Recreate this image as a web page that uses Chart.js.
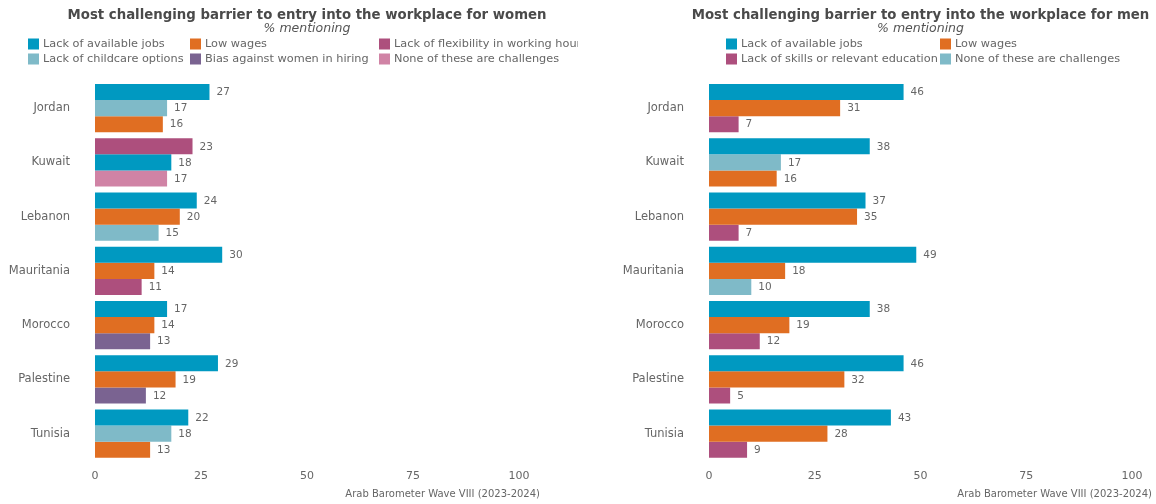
<!DOCTYPE html>
<html>
<head>
<meta charset="utf-8">
<script src="https://cdn.jsdelivr.net/npm/chart.js@4"></script>
<style>
  html, body { margin: 0; padding: 0; background: #fff; }
  .wrap { display: flex; width: 1156px; height: 504px; }
  .panel { position: relative; width: 578px; height: 504px; }
</style>
</head>
<body>
<div class="wrap">
  <div class="panel"><canvas id="womenChart"></canvas></div>
  <div class="panel"><canvas id="menChart"></canvas></div>
</div>
<script>
const countries = ["Jordan", "Kuwait", "Lebanon", "Mauritania", "Morocco", "Palestine", "Tunisia"];
const xTicks = [0, 25, 50, 75, 100];
const subtitle = "% mentioning";
const source = "Arab Barometer Wave VIII (2023-2024)";

// barrier names and colours
const barrierNames = {
  jobs: "Lack of available jobs",
  wages: "Low wages",
  flex: "Lack of flexibility in working hours",
  childcare: "Lack of childcare options",
  bias: "Bias against women in hiring",
  noneW: "None of these are challenges",
  skills: "Lack of skills or relevant education",
  noneM: "None of these are challenges"
};
const barrierColors = {
  jobs: "#0099c1",
  wages: "#e06e22",
  flex: "#ad4f7d",
  childcare: "#7fbac8",
  bias: "#7a6391",
  noneW: "#d083a5",
  skills: "#ad4f7d",
  noneM: "#7fbac8"
};

// women: three most mentioned barriers per country, largest first
const womenFirst = [27, 23, 24, 30, 17, 29, 22];
const womenFirstKey = ["jobs", "flex", "jobs", "jobs", "jobs", "jobs", "jobs"];
const womenSecond = [17, 18, 20, 14, 14, 19, 18];
const womenSecondKey = ["childcare", "jobs", "wages", "wages", "wages", "wages", "childcare"];
const womenThird = [16, 17, 15, 11, 13, 12, 13];
const womenThirdKey = ["wages", "noneW", "childcare", "flex", "bias", "bias", "wages"];
const womenLegend = ["jobs", "wages", "flex", "childcare", "bias", "noneW"];

// men
const menFirst = [46, 38, 37, 49, 38, 46, 43];
const menFirstKey = ["jobs", "jobs", "jobs", "jobs", "jobs", "jobs", "jobs"];
const menSecond = [31, 17, 35, 18, 19, 32, 28];
const menSecondKey = ["wages", "noneM", "wages", "wages", "wages", "wages", "wages"];
const menThird = [7, 16, 7, 10, 12, 5, 9];
const menThirdKey = ["skills", "wages", "skills", "noneM", "skills", "skills", "skills"];
const menLegend = ["jobs", "wages", "skills", "noneM"];

const FONT = "'DejaVu Sans', sans-serif";
const GREY = "#666666";

// title, subtitle and column legend drawn over the reserved top strip,
// centred on the plot area rather than the canvas
const header = {
  id: "header",
  afterDraw(chart, args, opts) {
    const ctx = chart.ctx;
    const area = chart.chartArea;
    const cx = (area.left + area.right) / 2;
    ctx.save();
    ctx.textAlign = "center";
    ctx.textBaseline = "middle";
    ctx.fillStyle = "#4a4a4a";
    ctx.font = `bold ${opts.titleSize}px ${FONT}`;
    ctx.fillText(opts.title, cx, 16);
    ctx.fillStyle = "#555555";
    ctx.font = `italic 12.5px ${FONT}`;
    ctx.fillText(subtitle, cx, 29);

    const box = 11, gap = 4;
    ctx.font = `${opts.legendSize}px ${FONT}`;
    ctx.textAlign = "left";
    opts.items.forEach((k, i) => {
      const c = i % opts.columns.length, r = Math.floor(i / opts.columns.length);
      const x = opts.columns[c];
      const y = 44 + r * 15;
      ctx.fillStyle = barrierColors[k];
      ctx.fillRect(x, y - box / 2, box, box);
      ctx.fillStyle = GREY;
      ctx.fillText(barrierNames[k], x + box + gap, y + 0.5);
    });

    ctx.textAlign = "right";
    ctx.font = `10px ${FONT}`;
    ctx.fillText(source, opts.sourceRight, 494);
    ctx.restore();
  }
};

// value printed just past the end of each bar
const barValues = {
  id: "barValues",
  afterDatasetsDraw(chart) {
    const ctx = chart.ctx;
    ctx.save();
    ctx.font = `10.5px ${FONT}`;
    ctx.fillStyle = GREY;
    ctx.textAlign = "left";
    ctx.textBaseline = "middle";
    chart.data.datasets.forEach((ds, di) => {
      chart.getDatasetMeta(di).data.forEach((bar, i) => {
        ctx.fillText(ds.data[i], bar.x + 7, bar.y + 0.5);
      });
    });
    ctx.restore();
  }
};

function makeDataset(values, keys) {
  return {
    data: values,
    backgroundColor: keys.map(k => barrierColors[k]),
    barPercentage: 1,
    categoryPercentage: 0.89
  };
}

function makeChart(id, header, sets, axisWidth, padRight) {
  return new Chart(document.getElementById(id), {
    type: "bar",
    data: {
      labels: countries,
      datasets: sets.map(s => makeDataset(s[0], s[1]))
    },
    plugins: [barValues],
    options: {
      indexAxis: "y",
      responsive: true,
      maintainAspectRatio: false,
      animation: false,
      layout: { padding: { left: 0, right: padRight, top: 81, bottom: 20 } },
      plugins: {
        legend: { display: false },
        tooltip: { enabled: false },
        header: header
      },
      scales: {
        x: {
          min: 0,
          max: 100,
          afterBuildTicks(scale) { scale.ticks = xTicks.map(v => ({ value: v })); },
          grid: { display: false },
          border: { display: false },
          ticks: { color: GREY, padding: 1, font: { family: FONT, size: 11 } }
        },
        y: {
          afterFit(scale) { scale.width = axisWidth; },
          grid: { display: false },
          border: { display: false },
          ticks: { color: GREY, padding: 17, font: { family: FONT, size: 11.5 } }
        }
      }
    }
  });
}

Chart.register(header);

makeChart("womenChart", {
    title: "Most challenging barrier to entry into the workplace for women",
    titleSize: 13.3, items: womenLegend, columns: [28, 190, 379], legendSize: 11.3, sourceRight: 540
  },
  [[womenFirst, womenFirstKey], [womenSecond, womenSecondKey], [womenThird, womenThirdKey]],
  95, 59);

makeChart("menChart", {
    title: "Most challenging barrier to entry into the workplace for men",
    titleSize: 13.3, items: menLegend, columns: [148, 362], legendSize: 11.3, sourceRight: 574
  },
  [[menFirst, menFirstKey], [menSecond, menSecondKey], [menThird, menThirdKey]],
  131, 24);
</script>
</body>
</html>
